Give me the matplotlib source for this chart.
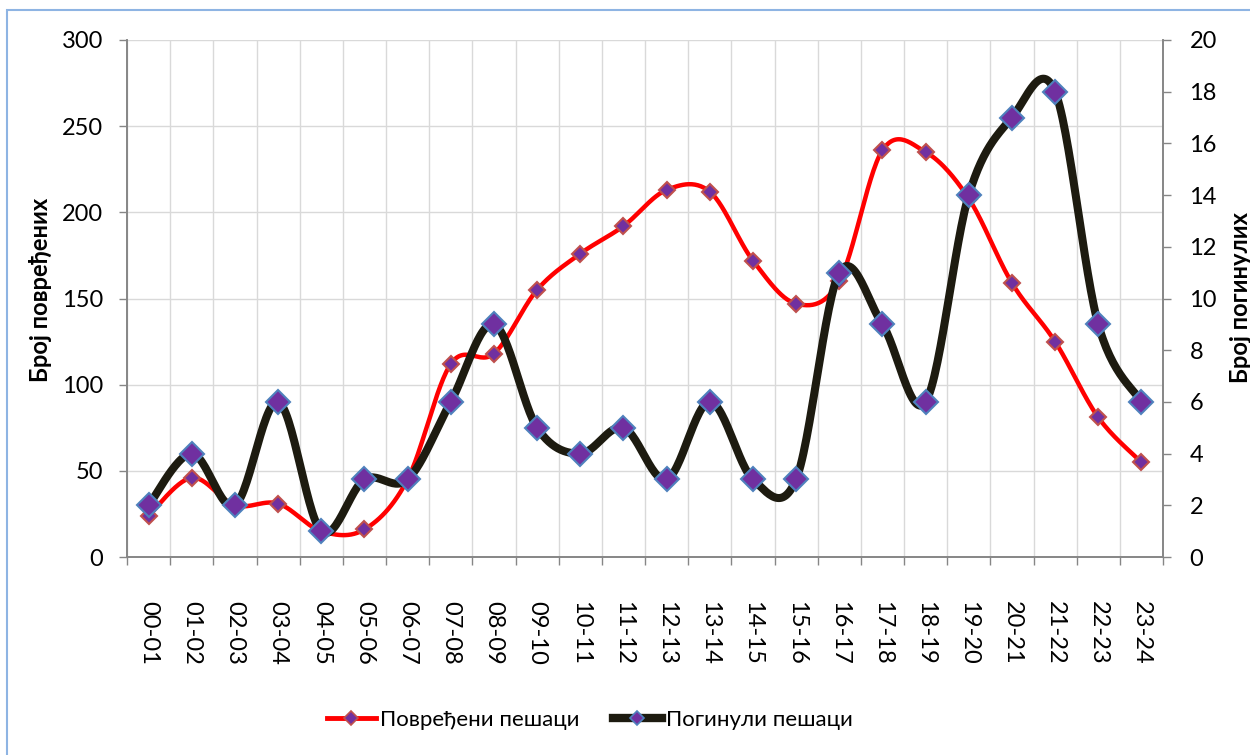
import numpy as np
import matplotlib
matplotlib.use("Agg")
import matplotlib.pyplot as plt
from matplotlib.lines import Line2D
from matplotlib.patches import Rectangle

plt.rcParams['font.family'] = ['Lato', 'DejaVu Sans']

categories = ["00-01", "01-02", "02-03", "03-04", "04-05", "05-06", "06-07", "07-08",
              "08-09", "09-10", "10-11", "11-12", "12-13", "13-14", "14-15", "15-16",
              "16-17", "17-18", "18-19", "19-20", "20-21", "21-22", "22-23", "23-24"]
injured = [24, 46, 30, 31, 15, 16, 45, 112, 118, 155, 176, 192, 213, 212, 172, 147,
           160, 236, 235, 208, 159, 125, 81, 55]
killed = [2, 4, 2, 6, 1, 3, 3, 6, 9, 5, 4, 5, 3, 6, 3, 3, 11, 9, 6, 14, 17, 18, 9, 6]

label_injured = "Повређени пешаци"
label_killed = "Погинули пешаци"
ylabel_left = "Број повређених"
ylabel_right = "Број погинулих"


def smooth(xs, ys, n=30):
    """Catmull-Rom style Bezier smoothing (like Excel's smoothed line)."""
    xs = np.asarray(xs, float)
    ys = np.asarray(ys, float)
    px = np.concatenate([[xs[0]], xs, [xs[-1]]])
    py = np.concatenate([[ys[0]], ys, [ys[-1]]])
    t = np.linspace(0, 1, n)
    ox, oy = [], []
    for i in range(1, len(px) - 2):
        p0 = np.array([px[i - 1], py[i - 1]])
        p1 = np.array([px[i], py[i]])
        p2 = np.array([px[i + 1], py[i + 1]])
        p3 = np.array([px[i + 2], py[i + 2]])
        c1 = p1 + (p2 - p0) / 6.0
        c2 = p2 - (p3 - p1) / 6.0
        b = ((1 - t) ** 3)[:, None] * p1 + (3 * (1 - t) ** 2 * t)[:, None] * c1 \
            + (3 * (1 - t) * t ** 2)[:, None] * c2 + (t ** 3)[:, None] * p2
        ox.append(b[:, 0])
        oy.append(b[:, 1])
    return np.concatenate(ox), np.concatenate(oy)


W, H = 1250, 755
fig = plt.figure(figsize=(W / 100, H / 100), dpi=100)
ax = fig.add_axes([127 / W, 1 - 557 / H, (1163 - 127) / W, (557 - 40) / H])
ax2 = ax.twinx()

x = np.arange(len(categories))

red = "#FF0000"
dark = "#1D1B10"
purple = "#7030A0"
red_edge = "#C0504D"
blue_edge = "#4F81BD"
axis_gray = "#868686"
grid_gray = "#D9D9D9"

sx, sy = smooth(x, injured)
ax.plot(sx, sy, color=red, lw=3.2, solid_capstyle='round', zorder=3)
ax.plot(x, injured, ls='none', marker='D', ms=8.5, mfc=purple, mec=red_edge, mew=1.5, zorder=4)

kx, ky = smooth(x, killed)
ax2.plot(kx, ky, color=dark, lw=5.8, solid_capstyle='round', zorder=3)
ax2.plot(x, killed, ls='none', marker='D', ms=12, mfc=purple, mec=blue_edge, mew=1.5, zorder=4)

ax.set_xlim(-0.5, len(categories) - 0.5)
ax.set_ylim(0, 300)
ax2.set_ylim(0, 20)
ax.set_yticks(np.arange(0, 301, 50))
ax2.set_yticks(np.arange(0, 21, 2))

# x ticks: marks at boundaries, labels at centers
ax.set_xticks(np.arange(-0.5, len(categories), 1.0))
ax.set_xticklabels([])
ax.set_xticks(x, minor=True)
ax.set_xticklabels(categories, minor=True, rotation=-90, fontsize=17)
ax.tick_params(axis='x', which='major', length=6, width=1, color=axis_gray, direction='out')
ax.tick_params(axis='x', which='minor', length=0, pad=32)

ax.tick_params(axis='y', length=6, width=1, color=axis_gray, direction='out', labelsize=17, pad=11)
ax2.tick_params(axis='y', length=6, width=1, color=axis_gray, direction='out', labelsize=17, pad=13)

ax.grid(True, which='major', axis='both', color=grid_gray, lw=1)
ax.set_axisbelow(True)

for a in (ax, ax2):
    a.spines['top'].set_visible(False)
    for s in ('left', 'right', 'bottom'):
        a.spines[s].set_color(axis_gray)
        a.spines[s].set_linewidth(1.2)

fig.text(40 / W, 1 - 290 / H, ylabel_left, rotation=90, fontsize=17, fontweight='bold',
         ha='center', va='center')
fig.text(1241 / W, 1 - 298 / H, ylabel_right, rotation=90, fontsize=17, fontweight='bold',
         ha='center', va='center')

handles = [
    Line2D([], [], color=red, lw=3.5, marker='D', ms=7, mfc=purple, mec=red_edge, mew=1.2),
    Line2D([], [], color=dark, lw=6, marker='D', ms=7, mfc=purple, mec=blue_edge, mew=1.2),
]
fig.legend(handles, [label_injured, label_killed], loc='center', bbox_to_anchor=(0.472, 1 - 720 / H),
           ncol=2, frameon=False, fontsize=16, handlelength=2.2, handletextpad=0.2,
           columnspacing=1.5)

fig.add_artist(Rectangle((7 / W, -0.05), 1.1, (H - 10) / H + 0.05, fill=False,
                         edgecolor="#8EB4E3", lw=1.5, transform=fig.transFigure))

fig.savefig("out.png", dpi=100)
